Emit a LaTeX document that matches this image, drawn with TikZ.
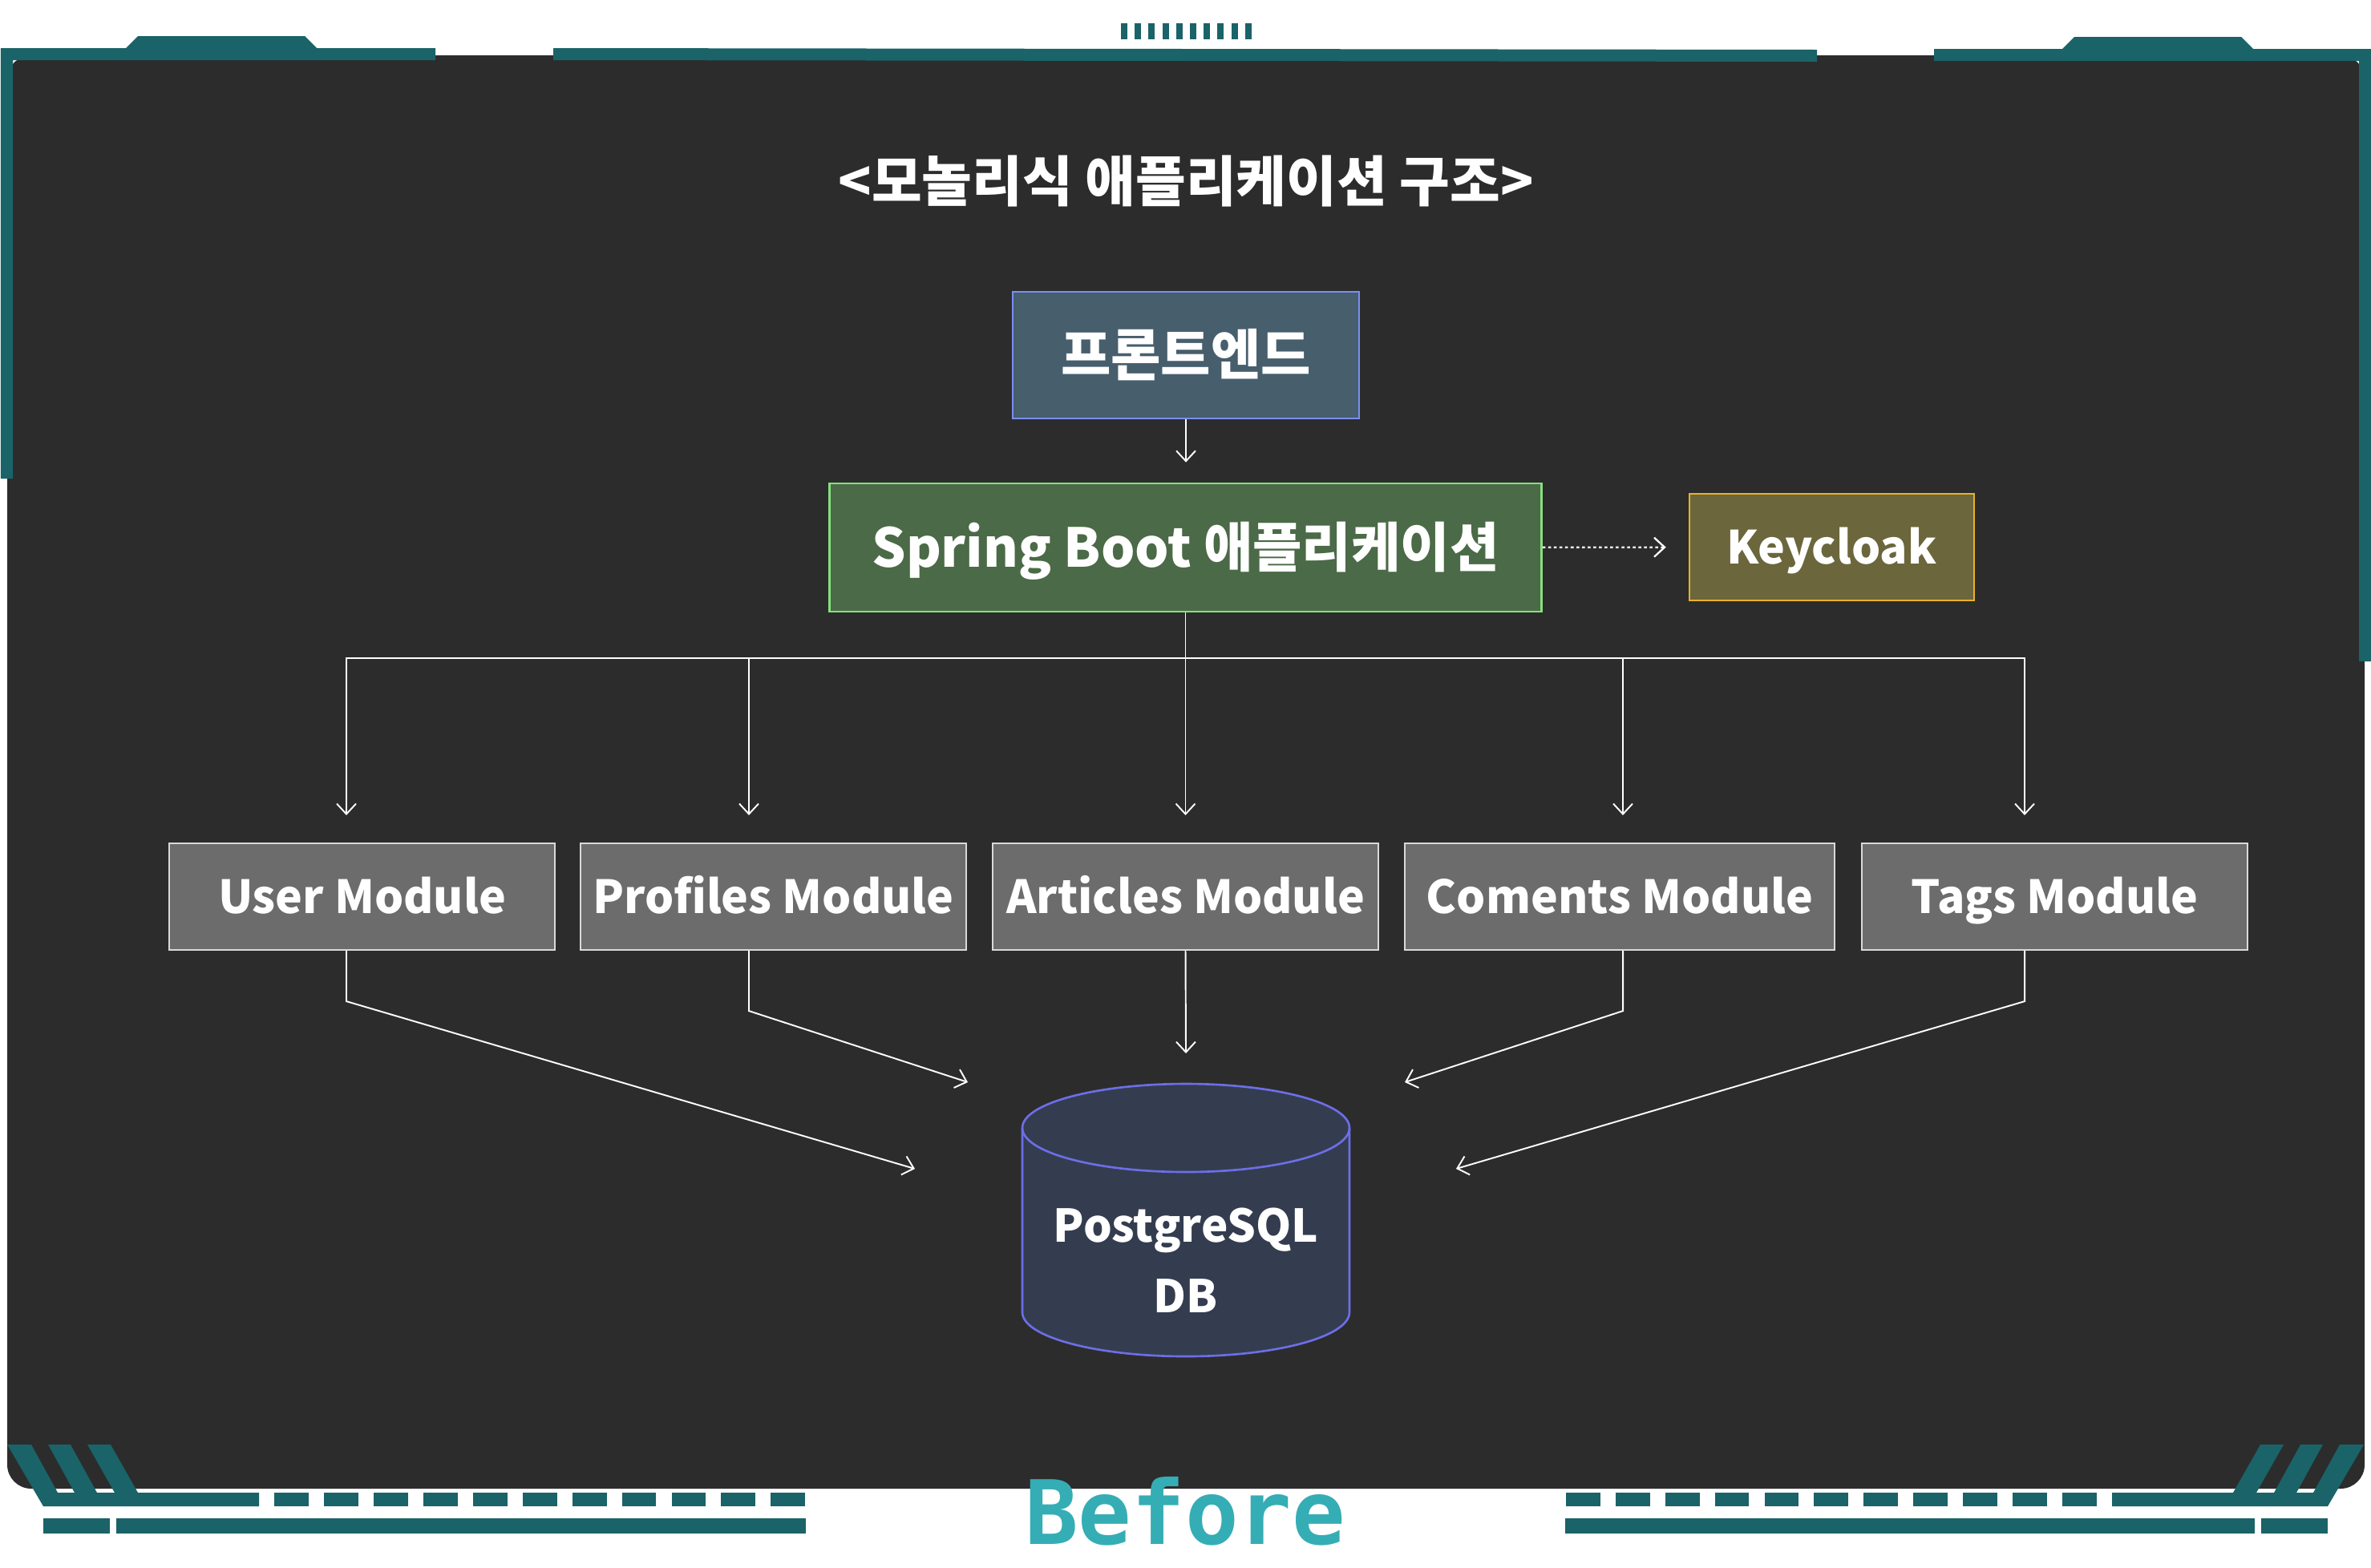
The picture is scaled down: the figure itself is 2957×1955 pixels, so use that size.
\documentclass[tikz,border=0pt]{standalone}
\usepackage{fontspec}
\setmainfont{Noto Sans CJK KR}
\newfontfamily\techfont{DejaVu Sans Mono}
\usetikzlibrary{arrows.meta,calc}
\definecolor{bgdark}{HTML}{2C2C2C}
\definecolor{frameteal}{HTML}{1A6368}
\definecolor{beforeteal}{HTML}{35ADB5}
\definecolor{fefill}{HTML}{475E6D}
\definecolor{feline}{HTML}{7A8EF5}
\definecolor{appfill}{HTML}{4B6A47}
\definecolor{appline}{HTML}{86E07E}
\definecolor{kcfill}{HTML}{6B663C}
\definecolor{kcline}{HTML}{E9B22A}
\definecolor{modfill}{HTML}{6C6C6C}
\definecolor{modline}{HTML}{D9D9D9}
\definecolor{dbfill}{HTML}{343D4F}
\definecolor{dbline}{HTML}{6D6EE8}

\begin{document}
\begin{tikzpicture}[x=0.1mm, y=-0.1mm,
  frame/.style={fill=frameteal},
  box/.style={rectangle, text=white, inner sep=0pt, line width=0.75pt,
    text depth=0pt},
  fe/.style={box, draw=feline, fill=fefill, minimum width=43.2mm,
    minimum height=15.8mm, text height=15.5pt, text depth=1.3pt,
    font=\bfseries\fontsize{19.3}{22}\selectfont},
  app/.style={box, draw=appline, fill=appfill, minimum width=88.8mm,
    minimum height=16mm, text height=13.9pt,
    font=\bfseries\fontsize{19}{22}\selectfont},
  auth/.style={box, draw=kcline, fill=kcfill, minimum width=35.5mm,
    minimum height=13.3mm, text height=11.8pt,
    font=\bfseries\fontsize{16.2}{20}\selectfont},
  mod/.style={box, draw=modline, fill=modfill, line width=0.6pt,
    minimum width=48.1mm, minimum height=13.3mm, text height=11.8pt,
    font=\bfseries\fontsize{16.2}{20}\selectfont},
  lnk/.style={draw=white, line width=0.55pt},
  arr/.style={lnk, -{Straight Barb[length=1.3mm, width=2.4mm]}}]
\useasboundingbox (0,0) rectangle (2957,1955);
\fill[white] (0,0) rectangle (2957,1955);
% ---------------- panel background and frame ----------------
\fill[bgdark, rounded corners=3mm] (9,69) rectangle (2949,1857);
\fill[frame] (1,60) -- (157,60) -- (172,45) -- (380,45) -- (395,60) -- (543,60)
  -- (543,75) -- (16,75) -- (16,597) -- (1,597) -- cycle;
\fill[frame] (690,60) -- (2266,62) -- (2266,77) -- (690,75) -- cycle;
\fill[frame] (2412,61) -- (2572,61) -- (2587,46) -- (2795,46) -- (2810,61)
  -- (2957,61) -- (2957,825) -- (2942,825) -- (2942,76) -- (2412,76) -- cycle;
\foreach \i in {0,...,9} \fill[frame] ({1398+17.2*\i},29) rectangle ++(8,20);
% bottom ornament, left side and its mirror image
\foreach \s in {1,-1} {
\begin{scope}[shift={({(1-\s)*1478.5},0)}, xscale=\s]
\fill[frame] (9,1802) -- (39,1802) -- (72,1862) -- (93,1862) -- (60,1802)
  -- (88,1802) -- (121,1862) -- (143,1862) -- (109,1802) -- (138,1802)
  -- (172,1862) -- (323,1862) -- (323,1879) -- (54,1879) -- cycle;
\foreach \i in {0,...,10} \fill[frame] ({342.3+61.9*\i},1862) rectangle ++(42.8,17);
\fill[frame] (54,1894) rectangle (137,1913);
\fill[frame] (145,1894) rectangle (1005,1913);
\end{scope}
}
\node[font=\techfont\bfseries\fontsize{31.5}{31.5}\selectfont, text=beforeteal,
  anchor=base] (tag) at (1478,1926) {Before};
% ---------------- diagram ----------------
\node[font=\bfseries\fontsize{19.4}{22}\selectfont, text=white] (title) at (1479,226)
  {<모놀리식 애플리케이션 구조>};
\node[fe] (front) at (1479,443) {프론트엔드};
\node[app] (spring) at (1478.5,683) {Spring Boot 애플리케이션};
\node[auth] (keycloak) at (2284.5,682.5) {Keycloak};
\node[mod] (user) at (451.5,1118.5) {User Module};
\node[mod] (profiles) at (964.5,1118.5) {Profiles Module};
\node[mod] (articles) at (1478.5,1118.5) {Articles Module};
\node[mod, minimum width=53.6mm] (coments) at (2020,1118.5) {Coments Module};
\node[mod] (tags) at (2562.5,1118.5) {Tags Module};
% database cylinder
\fill[dbfill] (1275,1407) -- (1275,1637)
  arc[start angle=180, end angle=0, x radius=204, y radius=55] -- (1683,1407) -- cycle;
\fill[dbfill] (1479,1407) ellipse [x radius=204, y radius=55];
\draw[dbline, line width=0.75pt] (1275,1407) -- (1275,1637)
  arc[start angle=180, end angle=0, x radius=204, y radius=55] -- (1683,1407);
\draw[dbline, line width=0.75pt] (1479,1407) ellipse [x radius=204, y radius=55];
\node[font=\bfseries\fontsize{16}{25}\selectfont, text=white, align=center] (db)
  at (1479,1572) {PostgreSQL\\DB};
\coordinate (inUser) at (1141,1458);
\coordinate (inProf) at (1207,1350);
\coordinate (inArt) at (1479,1314);
\coordinate (inCom) at (1752,1350);
\coordinate (inTags) at (1816,1458);
% connectors
\draw[arr, shorten >=2.5mm] (front.south) -- (front.south |- spring.north);
\draw[arr, line width=0.65pt, dash pattern=on 1pt off 1pt, shorten >=2.8mm]
  (spring) -- (keycloak);
\coordinate (bus) at ($(spring.south)+(0,57)$);
\draw[lnk] (spring.south) -- (bus);
\foreach \m/\dx in {user/-1.95, profiles/-3.05, articles/0, coments/0.4, tags/-3.75}
  \draw[arr, shorten >=3.4mm] (bus) -| ([xshift=\dx mm]\m.north);
\draw[arr] ([xshift=-1.95mm]user.south) -- ++(0,63) -- (inUser);
\draw[arr] ([xshift=-3.05mm]profiles.south) -- ++(0,75) -- (inProf);
\draw[arr] (articles.south) -- (inArt);
\draw[arr] ([xshift=0.4mm]coments.south) -- ++(0,75) -- (inCom);
\draw[arr] ([xshift=-3.75mm]tags.south) -- ++(0,63) -- (inTags);
\end{tikzpicture}
\end{document}
